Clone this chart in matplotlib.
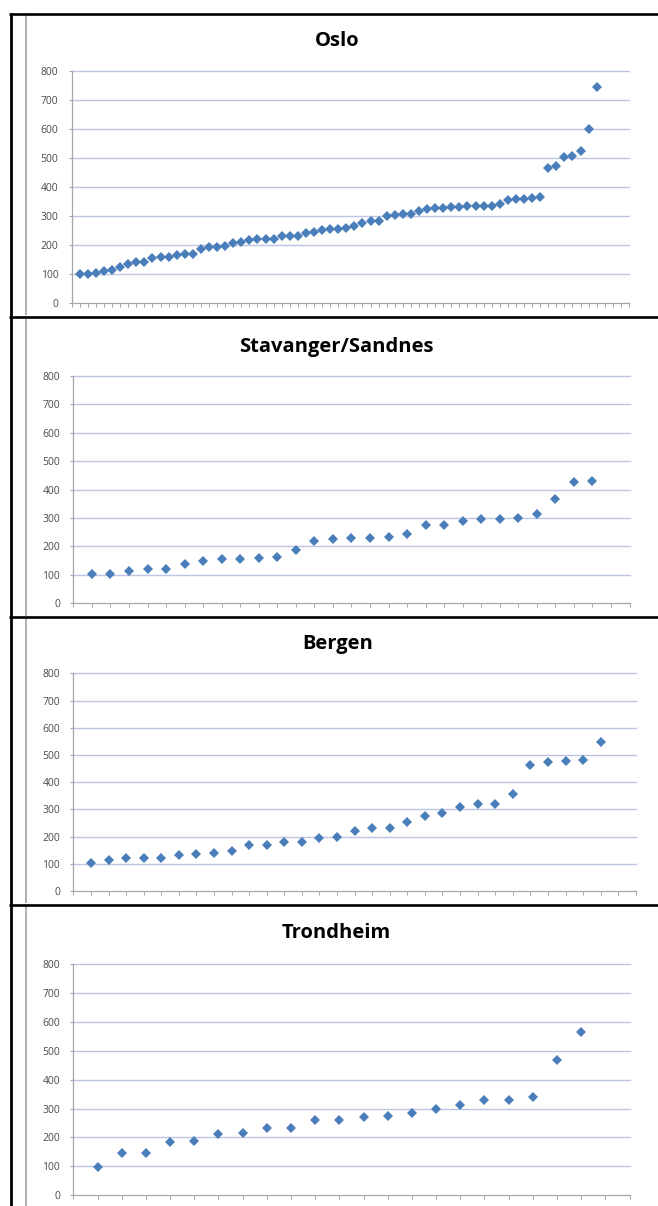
import matplotlib
matplotlib.use("Agg")
import matplotlib.pyplot as plt
from matplotlib.lines import Line2D

W, H = 658, 1206

# ---- data ----
titles = ["Oslo", "Stavanger/Sandnes", "Bergen", "Trondheim"]

oslo = [101, 100, 106, 111, 115, 125, 134, 142, 142, 155, 158, 161, 165, 169, 169,
        186, 193, 195, 196, 207, 212, 219, 223, 223, 223, 231, 233, 233, 241, 245,
        253, 255, 257, 258, 266, 278, 283, 285, 301, 304, 307, 309, 319, 326, 327,
        328, 330, 332, 335, 336, 336, 336, 342, 357, 360, 360, 364, 365, 465, 473,
        503, 506, 523, 601, 745]
stavanger = [103, 103, 115, 120, 122, 140, 148, 157, 157, 159, 162, 187, 220, 227,
             229, 231, 233, 245, 275, 275, 290, 295, 297, 299, 313, 368, 428, 432]
bergen = [103, 113, 120, 120, 120, 132, 135, 140, 148, 168, 170, 180, 180, 193, 198,
          220, 232, 232, 252, 275, 287, 310, 320, 320, 355, 463, 473, 478, 480, 548]
trondheim = [98, 145, 145, 183, 188, 212, 215, 232, 233, 260, 260, 270, 275, 285,
             300, 313, 330, 330, 340, 467, 565]

series = [oslo, stavanger, bergen, trondheim]
x_axis_max = [69, 30, 32, 23]
y_ticks = [0, 100, 200, 300, 400, 500, 600, 700, 800]

# ---- styling ----
MARKER_COLOR = "#4A7EBB"
GRID_COLOR = "#BCC6E4"
AXIS_COLOR = "#A6A6A6"
LABEL_COLOR = "#4A4A4A"

fig = plt.figure(figsize=(W / 100, H / 100), dpi=100)
fig.patch.set_facecolor("white")

# plot boxes in pixels: (x0, y_top, x1, y_bottom), title centre (x, y)
layout = [
    ((71.7, 71.0, 629.0, 303.3), (337, 41)),
    ((73.4, 376.0, 629.5, 603.3), (336, 347)),
    ((73.4, 673.3, 635.8, 891.0), (338, 644)),
    ((73.4, 964.0, 629.5, 1195.3), (336, 933)),
]

for title, vals, xmax, (box, tpos) in zip(titles, series, x_axis_max, layout):
    x0, yt, x1, yb = box
    ax = fig.add_axes([x0 / W, 1 - yb / H, (x1 - x0) / W, (yb - yt) / H])
    ax.set_facecolor("none")
    xs = list(range(1, len(vals) + 1))
    ax.set_xlim(0, xmax)
    ax.set_ylim(0, 800)
    for yv in y_ticks[1:]:
        ax.axhline(yv, color=GRID_COLOR, lw=1.0, clip_on=False, zorder=1)
    ax.plot(xs, vals, linestyle="none", marker="D", markersize=4.8,
            color=MARKER_COLOR, markeredgewidth=0, zorder=3, clip_on=False)
    ax.set_yticks(y_ticks)
    ax.set_yticklabels([str(v) for v in y_ticks], fontsize=7.5,
                       family=["Open Sans", "DejaVu Sans"], color=LABEL_COLOR)
    ax.set_xticks(range(0, xmax + 1))
    ax.set_xticklabels([])
    ax.tick_params(axis="y", direction="out", length=2.5, width=0.8,
                   color=AXIS_COLOR, pad=7)
    ax.tick_params(axis="x", direction="out", length=3.0, width=0.7,
                   color=AXIS_COLOR)
    for s in ["top", "right"]:
        ax.spines[s].set_visible(False)
    for s in ["left", "bottom"]:
        ax.spines[s].set_color(AXIS_COLOR)
        ax.spines[s].set_linewidth(0.9)
    fig.text(tpos[0] / W, 1 - tpos[1] / H, title, ha="center", va="center",
             fontsize=14.5, fontweight="bold", family=["Open Sans", "DejaVu Sans"],
             color="black")


def hline(y, xa, xb, color, lw):
    fig.add_artist(Line2D([xa / W, xb / W], [1 - y / H, 1 - y / H],
                          transform=fig.transFigure, color=color, lw=lw,
                          solid_capstyle="butt"))


def vline(x, ya, yb, color, lw):
    fig.add_artist(Line2D([x / W, x / W], [1 - ya / H, 1 - yb / H],
                          transform=fig.transFigure, color=color, lw=lw,
                          solid_capstyle="butt"))


# light gray chart-area left borders
for ya, yb in [(14, 315), (319, 616), (619, 903), (906, 1206)]:
    vline(26, ya, yb, "#B0B0B0", 1.4)

# black table frame
hline(13.5, 9, 658, "black", 1.9)
for y in [316.5, 617.0, 904.5]:
    hline(y, 9, 658, "black", 1.9)
vline(10.5, 12.5, 1206, "black", 2.0)

fig.savefig("out.png", dpi=100, facecolor="white")
